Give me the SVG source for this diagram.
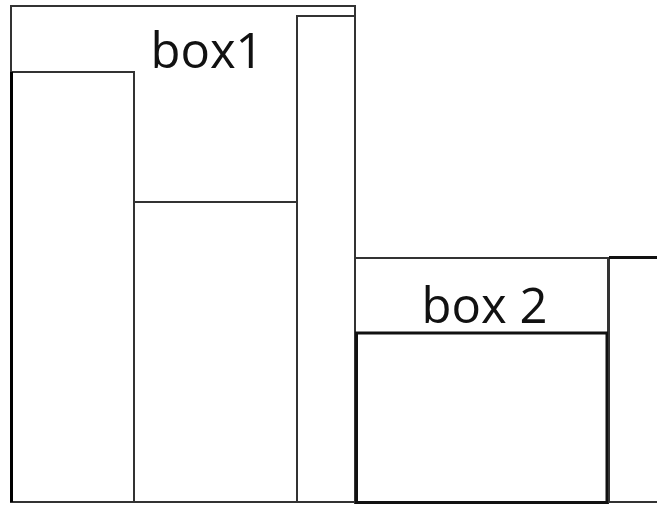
<svg xmlns="http://www.w3.org/2000/svg" width="657" height="506" viewBox="0 0 657 506">
<style>
.r{fill:none;stroke:#333;stroke-width:2}
.k{fill:none;stroke:#111;stroke-width:3}
.t{font-family:"Open Sans","Liberation Sans",sans-serif;fill:#111}
</style>
<rect width="657" height="506" fill="#fff"/>
<g id="box1">
<rect class="r" x="11" y="6" width="344" height="496"/>
<text class="t" x="207" y="68" font-size="49" text-anchor="middle">box1</text>
</g>
<g id="box1-left">
<rect class="r" x="11" y="72" width="123" height="430"/>
<line x1="11.5" y1="72" x2="11.5" y2="502" stroke="#000" stroke-width="3"/>
</g>
<g id="box1-mid">
<rect class="r" x="134" y="202" width="163" height="300"/>
</g>
<g id="box1-tall">
<rect class="r" x="297" y="16" width="58" height="486"/>
</g>
<g id="box2">
<rect class="r" x="355" y="258" width="253" height="245"/>
<text class="t" x="484.5" y="323" font-size="49" text-anchor="middle">box 2</text>
</g>
<g id="box2-inner">
<rect class="k" x="356.5" y="333" width="250.5" height="169.5"/>
</g>
<g id="right-box">
<rect class="r" x="609" y="258" width="60" height="244"/>
<line x1="609" y1="257.5" x2="657" y2="257.5" stroke="#111" stroke-width="3"/>
</g>
</svg>
